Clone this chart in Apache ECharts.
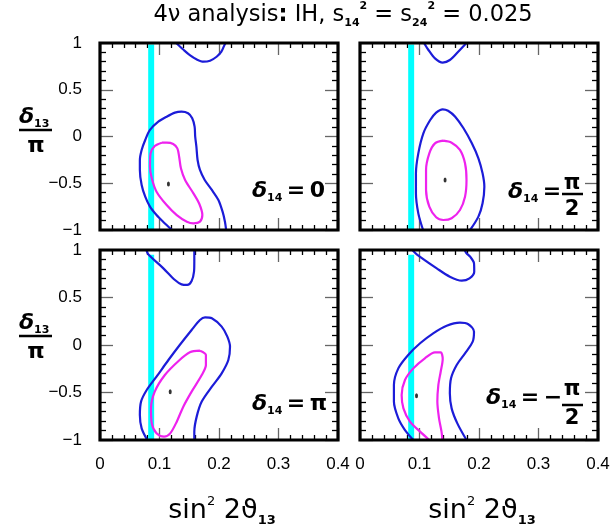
<!DOCTYPE html>
<html><head><meta charset="utf-8">
<script src="https://cdn.jsdelivr.net/npm/echarts@6/dist/echarts.min.js"></script>
<style>html,body{margin:0;padding:0;background:#fff}#c{width:614px;height:528px}</style>
</head><body><div id="c"></div>
<script>
// ---- data (x = sin^2 2theta13, y = delta13/pi) ----
const xTicks = [0, 0.1, 0.2, 0.3, 0.4];
const yTicks = [-1, -0.5, 0, 0.5, 1];
const bandX = [0.081, 0.091];
const bandTop = [0.985, 0.985, 0.95, 0.95];

// delta14 = 0
const tlBlueTop  = [[0.128,1.0],[0.140,0.93],[0.151,0.87],[0.162,0.826],[0.174,0.80],[0.185,0.811],[0.196,0.853],[0.204,0.907],[0.210,0.99],[0.211,1.0]];
const tlBlueMain = [[0.121,-1.0],[0.106,-0.911],[0.095,-0.84],[0.084,-0.75],[0.076,-0.644],[0.070,-0.519],[0.067,-0.358],[0.067,-0.251],[0.070,-0.144],[0.076,-0.037],[0.084,0.07],[0.098,0.158],[0.112,0.212],[0.126,0.255],[0.137,0.265],[0.148,0.248],[0.155,0.195],[0.159,0.105],[0.160,-0.002],[0.162,-0.109],[0.164,-0.251],[0.168,-0.358],[0.176,-0.465],[0.188,-0.572],[0.199,-0.679],[0.206,-0.804],[0.210,-0.911],[0.212,-1.0]];
const tlMagenta  = [[0.104,-0.066],[0.112,-0.066],[0.123,-0.080],[0.130,-0.127],[0.133,-0.216],[0.136,-0.340],[0.143,-0.465],[0.157,-0.608],[0.167,-0.722],[0.172,-0.84],[0.168,-0.911],[0.157,-0.929],[0.146,-0.911],[0.129,-0.84],[0.112,-0.733],[0.095,-0.590],[0.087,-0.447],[0.084,-0.323],[0.085,-0.180],[0.092,-0.102],[0.104,-0.066]];
const tlBest     = [[0.115,-0.508]];

// delta14 = pi/2
const trBlueTop  = [[0.1076,1.0],[0.115,0.925],[0.126,0.836],[0.139,0.79],[0.151,0.818],[0.165,0.907],[0.179,1.0]];
const trBlueMain = [[0.106,-1.0],[0.098,-0.822],[0.094,-0.608],[0.094,-0.394],[0.098,-0.180],[0.1065,0.034],[0.118,0.176],[0.128,0.255],[0.139,0.291],[0.148,0.276],[0.160,0.212],[0.174,0.088],[0.188,-0.073],[0.199,-0.233],[0.206,-0.394],[0.209,-0.537],[0.206,-0.714],[0.199,-0.857],[0.185,-1.0]];
const trMagenta  = [[0.140,-0.045],[0.154,-0.066],[0.168,-0.144],[0.1765,-0.287],[0.179,-0.465],[0.1765,-0.644],[0.168,-0.786],[0.154,-0.875],[0.140,-0.893],[0.128,-0.864],[0.1165,-0.750],[0.111,-0.572],[0.111,-0.358],[0.1165,-0.180],[0.126,-0.073],[0.140,-0.045]];
const trBest     = [[0.143,-0.465]];

// delta14 = pi
const blBlueTop  = [[0.078,1.0],[0.081,0.955],[0.1065,0.807],[0.126,0.684],[0.137,0.638],[0.1467,0.632],[0.154,0.674],[0.158,0.772],[0.1585,0.877],[0.1585,1.0]];
const blBlueMain = [[0.0795,-1.0],[0.070,-0.877],[0.067,-0.737],[0.069,-0.596],[0.0785,-0.474],[0.095,-0.333],[0.115,-0.158],[0.134,0.0],[0.154,0.158],[0.168,0.263],[0.1765,0.291],[0.188,0.281],[0.2045,0.193],[0.214,0.088],[0.2185,-0.018],[0.2157,-0.158],[0.2045,-0.298],[0.188,-0.439],[0.171,-0.596],[0.1625,-0.754],[0.1585,-0.912],[0.1585,-1.0]];
const blMagenta  = [[0.168,-0.060],[0.178,-0.105],[0.178,-0.211],[0.171,-0.316],[0.154,-0.491],[0.140,-0.649],[0.129,-0.807],[0.118,-0.930],[0.1076,-0.965],[0.095,-0.930],[0.087,-0.825],[0.0857,-0.667],[0.092,-0.491],[0.109,-0.316],[0.132,-0.168],[0.151,-0.077],[0.168,-0.060]];
const blBest     = [[0.118,-0.491]];

// delta14 = -pi/2
const brBlueTop  = [[0.088,1.0],[0.0953,0.955],[0.129,0.807],[0.151,0.719],[0.171,0.677],[0.184,0.702],[0.192,0.772],[0.1916,0.860],[0.185,0.930],[0.179,0.965],[0.176,1.0]];
const brBlueMain = [[0.0896,-1.0],[0.0756,-0.895],[0.0644,-0.772],[0.057,-0.596],[0.057,-0.421],[0.0644,-0.246],[0.081,-0.105],[0.101,0.018],[0.123,0.123],[0.1457,0.203],[0.168,0.235],[0.182,0.218],[0.1916,0.140],[0.1894,0.035],[0.1765,-0.088],[0.1625,-0.211],[0.153,-0.351],[0.151,-0.509],[0.154,-0.667],[0.1636,-0.825],[0.179,-1.0]];
const brMagenta  = [[0.1165,-1.0],[0.101,-0.912],[0.084,-0.807],[0.073,-0.667],[0.070,-0.526],[0.0756,-0.368],[0.0896,-0.246],[0.109,-0.140],[0.126,-0.077],[0.1356,-0.077],[0.139,-0.147],[0.1356,-0.281],[0.1317,-0.421],[0.130,-0.596],[0.1328,-0.772],[0.137,-0.912],[0.1385,-1.0]];
const brBest     = [[0.095,-0.533]];

const panels = [
  {blueTop: tlBlueTop, blueMain: tlBlueMain, magenta: tlMagenta, best: tlBest},
  {blueTop: trBlueTop, blueMain: trBlueMain, magenta: trMagenta, best: trBest},
  {blueTop: blBlueTop, blueMain: blBlueMain, magenta: blMagenta, best: blBest},
  {blueTop: brBlueTop, blueMain: brBlueMain, magenta: brMagenta, best: brBest}
];

// ---- chart ----
const BLUE = '#1c1cd8', MAG = '#ee22ee', CYAN = '#00ffff';
const LABEL_FONT = 'Liberation Sans, Arial, sans-serif';
const chart = echarts.init(document.getElementById('c'), null, {renderer: 'canvas'});

const grids = [
  {left: 100, top: 43, width: 238, height: 187},
  {left: 360, top: 43, width: 238, height: 187},
  {left: 100, top: 250, width: 238, height: 190},
  {left: 360, top: 250, width: 238, height: 190}
];

const axLine = {show: true, onZero: false, lineStyle: {color: '#000', width: 1}};
const xAxis = [], yAxis = [], series = [];
grids.forEach((g, i) => {
  const showX = i >= 2, showY = i % 2 === 0;
  const xb = {type: 'value', gridIndex: i, min: xTicks[0], max: xTicks[xTicks.length - 1], interval: xTicks[1] - xTicks[0],
    axisLine: axLine, splitLine: {show: false},
    axisTick: {show: true, inside: true, length: 12, lineStyle: {color: '#666', width: 1.3}},
    minorTick: {show: true, splitNumber: 5, length: 5, lineStyle: {color: '#000', width: 1.3}}};
  xAxis.push(Object.assign({}, xb, {position: 'bottom', axisLabel: {show: showX, margin: 16, color: '#000', fontSize: 17, fontFamily: LABEL_FONT,
    formatter: v => String(parseFloat(v.toFixed(2)))}}));
  xAxis.push(Object.assign({}, xb, {position: 'top', axisLabel: {show: false}}));
  const yb = {type: 'value', gridIndex: i, min: yTicks[0], max: yTicks[yTicks.length - 1], interval: yTicks[1] - yTicks[0],
    axisLine: axLine, splitLine: {show: false},
    axisTick: {show: true, inside: true, length: 13, lineStyle: {color: '#666', width: 1.3}},
    minorTick: {show: true, splitNumber: 5, length: 6, lineStyle: {color: '#000', width: 1.3}}};
  yAxis.push(Object.assign({}, yb, {position: 'left', axisLabel: {show: showY, margin: 18, color: '#000', fontSize: 17, fontFamily: LABEL_FONT,
    formatter: v => (v < 0 ? '\u2212' : '') + String(Math.abs(v))}}));
  yAxis.push(Object.assign({}, yb, {position: 'right', axisLabel: {show: false}}));

  const p = panels[i];
  const xi = 2 * i, yi = 2 * i;
  series.push({type: 'custom', xAxisIndex: xi, yAxisIndex: yi, z: 1, silent: true,
    data: [[bandX[0], bandX[1], yTicks[0], bandTop[i]]],
    renderItem: (params, api) => {
      const a = api.coord([api.value(0), api.value(3)]);
      const b = api.coord([api.value(1), api.value(2)]);
      return {type: 'rect', shape: {x: a[0], y: a[1], width: b[0] - a[0], height: b[1] - a[1]}, style: {fill: CYAN}};
    }});
  const lineOpt = (data, color) => ({type: 'line', xAxisIndex: xi, yAxisIndex: yi, z: 3, data: data, smooth: 0.3,
    showSymbol: false, symbol: 'none', lineStyle: {color: color, width: 2.2}, clip: true, silent: true, animation: false});
  series.push(lineOpt(p.blueTop, BLUE));
  series.push(lineOpt(p.blueMain, BLUE));
  series.push(lineOpt(p.magenta, MAG));
  series.push({type: 'scatter', xAxisIndex: xi, yAxisIndex: yi, z: 4, data: p.best, symbol: 'circle', symbolSize: [3, 5],
    itemStyle: {color: '#000'}, silent: true});
});

const richBase = {
  d: {fontSize: 22, fontWeight: 'bold', fontFamily: 'DejaVu Sans', fontStyle: 'italic', verticalAlign: 'middle'},
  s: {fontSize: 11, fontWeight: 'bold', fontFamily: 'DejaVu Sans', verticalAlign: 'bottom', lineHeight: 26},
  e: {fontSize: 22, fontWeight: 'bold', fontFamily: 'DejaVu Sans', verticalAlign: 'middle'}
};
function rtext(x, y, text, align) {
  return {type: 'text', x: x, y: y, silent: true,
    style: {text: text, rich: richBase, textAlign: align || 'left', textVerticalAlign: 'middle', fill: '#000'}};
}
function ptext(x, y, t, size) {
  return {type: 'text', x: x, y: y, silent: true,
    style: {text: t, fontSize: size || 22, fontWeight: 'bold', fontFamily: 'DejaVu Sans', textAlign: 'center', textVerticalAlign: 'middle', fill: '#000'}};
}
function hline(x1, x2, y, w) {
  return {type: 'line', silent: true, shape: {x1: x1, y1: y, x2: x2, y2: y}, style: {stroke: '#000', lineWidth: w || 2.5}};
}
const xNameRich = {sup: {fontSize: 13, fontFamily: 'DejaVu Sans', verticalAlign: 'top', lineHeight: 32},
  sub: {fontSize: 13, fontWeight: 'bold', fontFamily: 'DejaVu Sans', verticalAlign: 'bottom', lineHeight: 32}};

// thick frames around each panel
const frames = grids.map(g => ({type: 'rect', silent: true, z: 100,
  shape: {x: g.left, y: g.top, width: g.width, height: g.height},
  style: {fill: null, stroke: '#000', lineWidth: 3.2}}));

const graphic = frames.concat([
  {type: 'text', x: 343, y: 15, silent: true, style: {
    text: '4\u03bd analysis{c|:} IH, s{sub|14}{sup|2} = s{sub|24}{sup|2} = 0.025',
    fontSize: 22.5, fontFamily: 'DejaVu Sans', fill: '#000', textAlign: 'center', textVerticalAlign: 'middle', lineHeight: 28,
    rich: {
      c: {fontSize: 22.5, fontWeight: 'bold', fontFamily: 'DejaVu Sans', lineHeight: 28},
      sub: {fontSize: 11, fontWeight: 'bold', fontFamily: 'DejaVu Sans', verticalAlign: 'bottom', lineHeight: 28},
      sup: {fontSize: 11, fontWeight: 'bold', fontFamily: 'DejaVu Sans', verticalAlign: 'top', lineHeight: 28}
    }}},
  rtext(19, 117, '{d|\u03b4}{s|13}'), hline(19, 52, 130), ptext(36, 146, '\u03c0'),
  rtext(19, 323, '{d|\u03b4}{s|13}'), hline(19, 52, 336), ptext(36, 352, '\u03c0'),
  {type: 'text', x: 222, y: 511, silent: true, style: {text: 'sin{sup|2} 2\u03d1{sub|13}', fontSize: 27, fontFamily: 'DejaVu Sans', fill: '#000',
    textAlign: 'center', textVerticalAlign: 'middle', lineHeight: 32, rich: xNameRich}},
  {type: 'text', x: 482, y: 511, silent: true, style: {text: 'sin{sup|2} 2\u03d1{sub|13}', fontSize: 27, fontFamily: 'DejaVu Sans', fill: '#000',
    textAlign: 'center', textVerticalAlign: 'middle', lineHeight: 32, rich: xNameRich}},
  rtext(252, 191, '{d|\u03b4}{s|14}{e|\u2009=\u20090}'),
  rtext(508, 192, '{d|\u03b4}{s|14}{e|\u2009=}'), ptext(572, 184, '\u03c0', 21), hline(562, 583, 194, 2.5), ptext(572, 210, '2', 21),
  rtext(252, 404, '{d|\u03b4}{s|14}{e|\u2009=\u2009\u03c0}'),
  rtext(486, 398, '{d|\u03b4}{s|14}{e|\u2009=\u2009\u2212}'), ptext(572, 390, '\u03c0', 21), hline(562, 583, 405, 2.5), ptext(572, 419, '2', 21)
]);

chart.setOption({
  animation: false,
  backgroundColor: '#fff',
  grid: grids.map(g => Object.assign({show: false, containLabel: false}, g)),
  xAxis: xAxis, yAxis: yAxis, series: series, graphic: graphic
});
</script></body></html>
